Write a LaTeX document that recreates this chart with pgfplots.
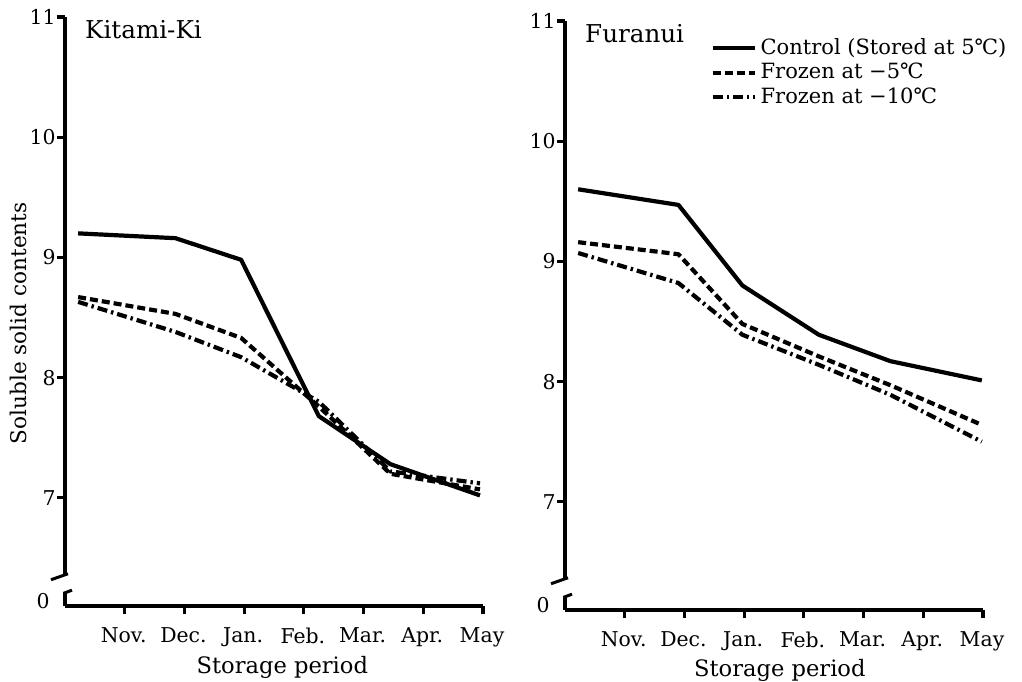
\documentclass[border=0pt]{standalone}
\usepackage{fontspec}
\setmainfont{DejaVu Serif}
\usepackage{pgfplots}
\usepackage{pgfplotstable}
\pgfplotsset{compat=1.18}

% Soluble solid contents during storage (x: months, Nov. = 1 ... May = 7)
\pgfplotstableread{
x    ctrl  fz5   fz10
0.22 9.20  8.67  8.63
1.85 9.16  8.53  8.38
2.95 8.98  8.33  8.17
4.25 7.68  7.76  7.80
5.45 7.28  7.20  7.22
6.95 7.02  7.07  7.12
}\kitami

\pgfplotstableread{
x    ctrl  fz5   fz10
0.22 9.60  9.16  9.07
1.90 9.47  9.06  8.82
2.97 8.80  8.48  8.39
4.25 8.39  8.21  8.14
5.45 8.17  7.97  7.89
6.98 8.01  7.64  7.50
}\furanui

\pgfplotsset{
  panel/.style={
    scale only axis, width=209pt, height=294.5pt,
    xmin=0, xmax=7, ymin=6.1, ymax=11,
    axis x line*=bottom, axis y line*=left,
    y axis line style={draw=none},
    x axis line style={line width=2.4pt},
    xtick={1,...,7},
    xticklabels={Nov.,Dec.,Jan.,Feb.,Mar.,Apr.,May},
    ytick={7,8,9,10,11},
    extra y ticks={6.1}, extra y tick labels={0},
    extra y tick style={major tick length=0pt,
      yticklabel style={xshift=-7pt, yshift=2.5pt}},
    tick align=outside, major tick length=4pt,
    every tick/.style={line width=1.6pt, black},
    tick label style={font=\fontsize{10.2}{12}\selectfont},
    yticklabel style={inner sep=0.5pt},
    xticklabel style={yshift=-3.5pt, xshift=-0.5pt},
    /pgf/number format/assume math mode=true,
    xlabel={Storage period},
    clip=false,
  },
  ctrl/.style={line width=2.1pt, black, line join=round},
  fz5/.style={line width=2.1pt, black, line join=round, dash pattern=on 4pt off 2pt},
  fz10/.style={line width=2.1pt, black, line join=round, dash pattern=on 5pt off 2pt on 1.2pt off 2pt},
}

% broken vertical axis with a gap between 0 and the data range
\newcommand{\brokenyaxis}{%
  \draw[line width=2.4pt] (axis cs:0,11) -- (axis cs:0,6.36);
  \draw[line width=1.5pt] ([xshift=-7pt,yshift=-2.5pt]axis cs:0,6.36) -- ([xshift=1.5pt,yshift=0.5pt]axis cs:0,6.36);
  \draw[line width=2.4pt] (axis cs:0,6.1) -- (axis cs:0,6.21);
  \draw[line width=1.5pt] ([xshift=-0.8pt,yshift=-0.3pt]axis cs:0,6.21) -- ([xshift=3.5pt,yshift=1.3pt]axis cs:0,6.21);
}

\begin{document}
\begin{tikzpicture}
\useasboundingbox (-32.5pt,-37.5pt) rectangle (478.5pt,303pt);

\begin{axis}[panel, at={(0pt,0pt)}, anchor=south west,
  ylabel={Soluble solid contents},
  ylabel style={at={(axis description cs:-0.112,0.48)}, anchor=center,
    font=\fontsize{10.8}{12}\selectfont},
  xlabel style={at={(axis description cs:0.52,-0.105)}, anchor=center,
    font=\fontsize{11.3}{12}\selectfont}]
  \brokenyaxis
  \node[anchor=north west, inner sep=0.5pt, font=\fontsize{12.3}{14}\selectfont]
    at (rel axis cs:0.045,0.997) {Kitami-Ki};
  \addplot[ctrl] table[x=x, y=ctrl] {\kitami};
  \addplot[fz5]  table[x=x, y=fz5]  {\kitami};
  \addplot[fz10] table[x=x, y=fz10] {\kitami};
\end{axis}

\begin{axis}[panel, at={(250pt,-2pt)}, anchor=south west,
  xlabel style={at={(axis description cs:0.514,-0.103)}, anchor=center,
    font=\fontsize{11.3}{12}\selectfont},
  legend style={draw=none, fill=none, at={(rel axis cs:0.347,0.978)},
    anchor=north west, inner sep=0pt, row sep=-1pt,
    font=\fontsize{10.5}{12}\selectfont,
    /tikz/every even column/.style={column sep=5pt}},
  legend cell align=left,
  legend image code/.code={\draw[#1] (0pt,0pt) -- (21pt,0pt);}]
  \brokenyaxis
  \node[anchor=north west, inner sep=0.5pt, font=\fontsize{12.3}{14}\selectfont]
    at (rel axis cs:0.045,0.997) {Furanui};
  \addplot[ctrl] table[x=x, y=ctrl] {\furanui};
  \addlegendentry{Control (Stored at 5℃)}
  \addplot[fz5]  table[x=x, y=fz5]  {\furanui};
  \addlegendentry{Frozen at −5℃}
  \addplot[fz10] table[x=x, y=fz10] {\furanui};
  \addlegendentry{Frozen at −10℃}
\end{axis}
\end{tikzpicture}
\end{document}
